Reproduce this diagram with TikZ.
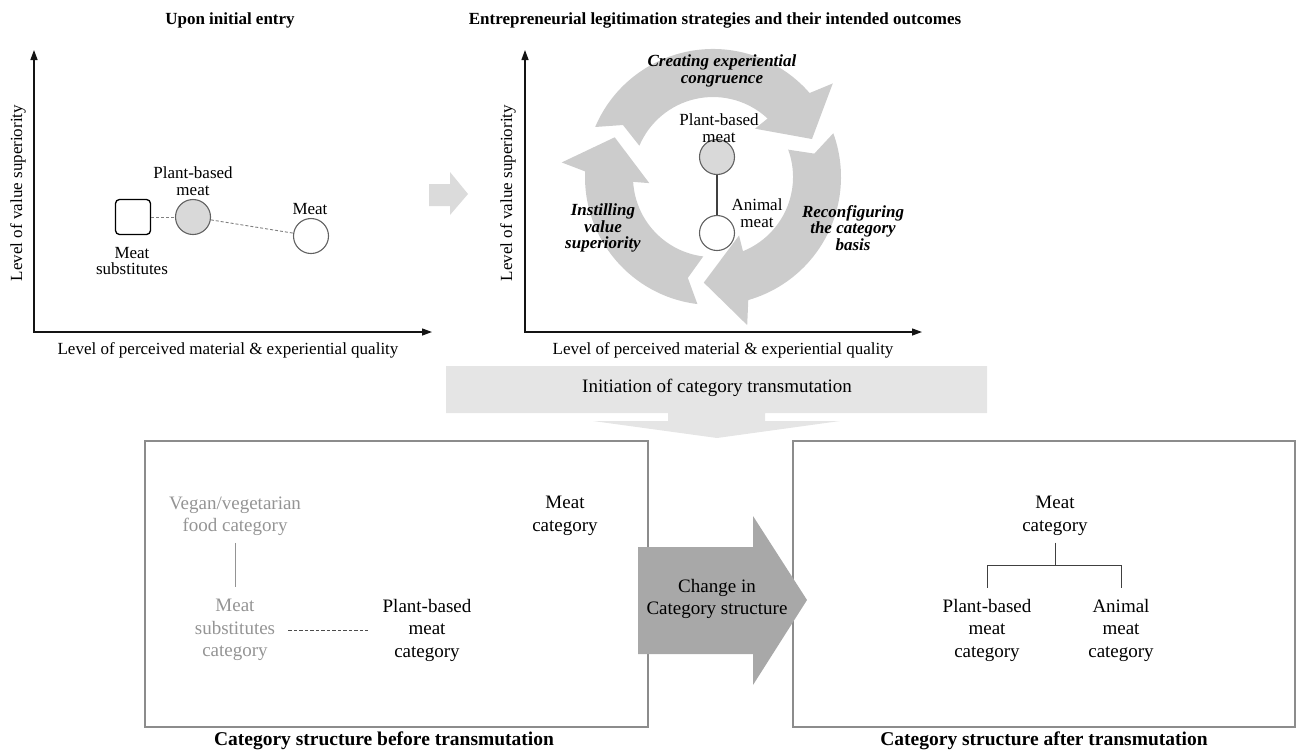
\documentclass[tikz,border=0pt]{standalone}
\usepackage{fontspec}
\setmainfont{Liberation Serif}
\usetikzlibrary{arrows.meta}
\definecolor{ringgray}{gray}{0.80}
\definecolor{lightarrow}{gray}{0.86}
\definecolor{bannergray}{gray}{0.90}
\definecolor{darkarrow}{gray}{0.66}
\definecolor{boxgray}{gray}{0.55}
\definecolor{fadedtext}{gray}{0.58}
\definecolor{circlestroke}{gray}{0.38}
\definecolor{circlefill}{gray}{0.85}
\definecolor{axisblack}{gray}{0.08}
\begin{document}
\begin{tikzpicture}[x=1pt,y=-1pt,
  txt/.style={font=\fontsize{17}{16.5}\selectfont, align=center, inner sep=0pt},
  btxt/.style={font=\fontsize{19}{22.5}\selectfont, align=center, inner sep=0pt},
  faded/.style={btxt, text=fadedtext},
  paneltitle/.style={font=\fontsize{17}{20}\selectfont\bfseries, inner sep=0pt},
  boxtitle/.style={font=\fontsize{19.5}{22}\selectfont\bfseries, inner sep=0pt},
  strat/.style={font=\fontsize{17}{16.5}\selectfont\bfseries\itshape, align=center, inner sep=0pt},
  axisline/.style={line width=1.3pt, draw=axisblack, {Triangle[length=10pt,width=7pt]}-{Triangle[length=10pt,width=7pt]}},
  pointcircle/.style={circle, draw=circlestroke, line width=1.1pt, minimum size=35pt, inner sep=0pt},
  catbox/.style={draw=boxgray, line width=1.4pt, inner sep=0pt},
  dashlink/.style={draw=gray, line width=0.9pt, dash pattern=on 3pt off 2pt},
  treeline/.style={draw=black!75, line width=1pt},
]
\useasboundingbox (0,0) rectangle (1297,753);

% ---------- top-left panel ----------
\node[paneltitle] (t1) at (230,20) {Upon initial entry};
\coordinate (ya1) at (34,50);
\coordinate (o1) at (34,332);
\coordinate (xa1) at (432,332);
\draw[axisline] (ya1) -- (o1) -- (xa1);
\node[txt, rotate=90] (yl1) at (18,193) {Level of value superiority};
\node[txt] (xl1) at (228,350) {Level of perceived material \& experiential quality};

\node[draw=black, line width=1.3pt, rounded corners=4pt, minimum size=35pt, inner sep=0pt] (sq) at (133,217) {};
\node[pointcircle, fill=circlefill] (pc1) at (193,217) {};
\node[pointcircle, fill=white] (mc1) at (311,236) {};
\draw[dashlink] (sq) -- (pc1);
\draw[dashlink] (pc1) -- (mc1);
\node[txt] (lpc1) at (193,181) {Plant-based\\meat};
\node[txt] (lmc1) at (310,209) {Meat};
\node[txt] (lsq) at (132,261) {Meat\\substitutes};

% ---------- small arrow between panels ----------
\fill[lightarrow] (429,184) -- (450,184) -- (450,172) -- (468,194) -- (450,215) -- (450,206) -- (429,206) -- cycle;

% ---------- top-right panel ----------
\node[paneltitle] (t2) at (715,20) {Entrepreneurial legitimation strategies and their intended outcomes};
\coordinate (ya2) at (525,50);
\coordinate (o2) at (525,332);
\coordinate (xa2) at (922,332);
\draw[axisline] (ya2) -- (o2) -- (xa2);
\node[txt, rotate=90] (yl2) at (508,193) {Level of value superiority};
\node[txt] (xl2) at (723,350) {Level of perceived material \& experiential quality};

\begin{scope}[shift={(713,177)}]
  \fill[ringgray] (157:128pt) arc[start angle=157, end angle=41, radius=128pt]
    -- (38:152pt) -- (21:106pt) -- (49:64pt) -- (47:80pt)
    arc[start angle=47, end angle=157, radius=80pt] -- (150:104pt) -- cycle;
  \fill[ringgray] (20:128pt) arc[start angle=20, end angle=-74, radius=128pt]
    -- (-77:152pt) -- (-95:106pt) -- (-66:64pt) -- (-68:80pt)
    arc[start angle=-68, end angle=20, radius=80pt] -- (13:104pt) -- cycle;
  \fill[ringgray] (-97:128pt) arc[start angle=-97, end angle=-182.5, radius=128pt]
    -- (-185.5:152pt) -- (-202:106pt) -- (-174.5:64pt) -- (-176.5:80pt)
    arc[start angle=-176.5, end angle=-97, radius=80pt] -- (-104:104pt) -- cycle;
\end{scope}

\node[strat] (s1) at (722,71) {Creating experiential\\congruence};
\node[strat] (s2) at (853,228) {Reconfiguring\\the category\\basis};
\node[strat] (s3) at (603,228) {Instilling\\value\\superiority};

\node[pointcircle, fill=circlefill] (pc2) at (717,157) {};
\node[pointcircle, fill=white] (mc2) at (717,233) {};
\draw[draw=black!75, line width=1.3pt] (pc2) -- (mc2);
\node[txt] (lpc2) at (719,128) {Plant-based\\meat};
\node[txt] (lmc2) at (757,213) {Animal\\meat};

% ---------- banner ----------
\fill[bannergray] (446,366) -- (987,366) -- (987,413) -- (765,413) -- (765,421) -- (840,421)
  -- (717,438) -- (593,421) -- (668,421) -- (668,413) -- (446,413) -- cycle;
\node[btxt] (ban) at (717,388) {Initiation of category transmutation};

% ---------- bottom boxes ----------
\node[catbox, minimum width=503pt, minimum height=286pt] (boxL) at (396.5,584) {};
\node[catbox, minimum width=502pt, minimum height=286pt] (boxR) at (1044,584) {};
\node[boxtitle] (tL) at (384,741) {Category structure before transmutation};
\node[boxtitle] (tR) at (1044,741) {Category structure after transmutation};

% left box content
\node[faded] (veg) at (235,516) {Vegan/vegetarian\\food category};
\node[faded] (sub) at (235,630) {Meat\\substitutes\\category};
\node[btxt] (pbL) at (427,630) {Plant-based\\meat\\category};
\node[btxt] (meatL) at (565,516) {Meat\\category};
\draw[draw=fadedtext, line width=1pt, shorten <=7pt, shorten >=12pt] (veg.south) -- (sub.north);
\draw[draw=black!70, line width=0.9pt, dash pattern=on 3.5pt off 2pt, shorten <=13pt, shorten >=14pt] (sub.east) -- (pbL.west);

% right box content
\node[btxt] (meatR) at (1055,516) {Meat\\category};
\node[btxt] (pbR) at (987,630) {Plant-based\\meat\\category};
\node[btxt] (amR) at (1121,630) {Animal\\meat\\category};
\coordinate (j) at (1055,565);
\draw[treeline] ([yshift=-7pt]meatR.south) -- (j);
\draw[treeline] (j) -| ([yshift=11pt]pbR.north);
\draw[treeline] (j) -| ([yshift=11pt]amR.north);

% ---------- central dark arrow ----------
\fill[darkarrow] (638,547) -- (753,547) -- (753,516) -- (807,600) -- (753,685) -- (753,654) -- (638,654) -- cycle;
\node[btxt] (chg) at (717,599) {Change in\\Category structure};

\end{tikzpicture}
\end{document}
